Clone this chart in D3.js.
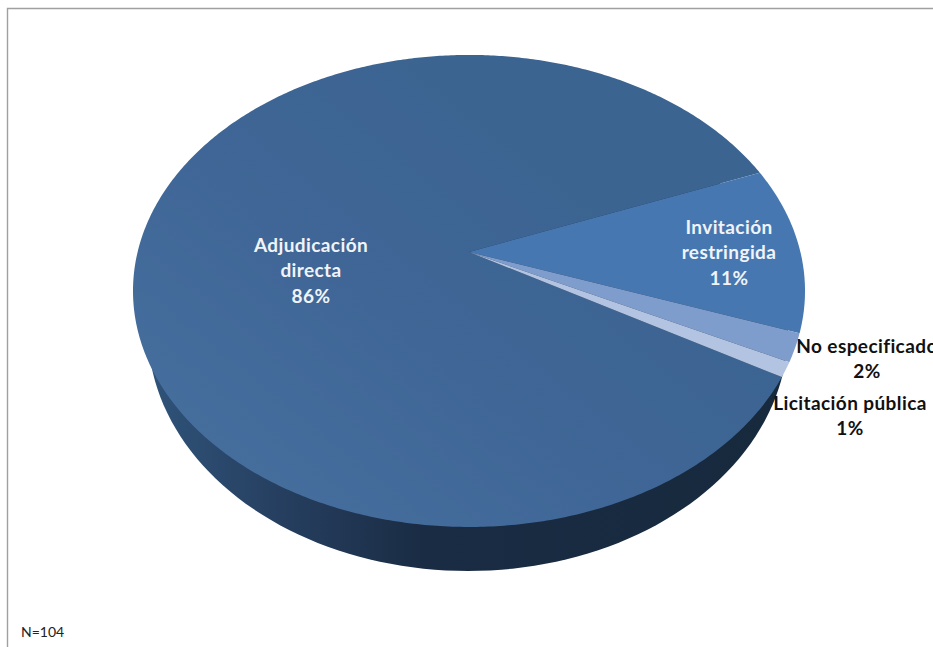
<!DOCTYPE html>
<html>
<head>
<meta charset="utf-8">
<script src="https://cdn.jsdelivr.net/npm/d3@7"></script>
<style>
html,body{margin:0;padding:0;background:#fff;overflow:hidden}
svg{display:block}
text{font-family:Lato,"Open Sans",sans-serif}
</style>
</head>
<body>
<svg id="c" width="933" height="647"></svg>
<script>
// ---- data ----
const categories = ["Adjudicación directa", "Invitación restringida", "No especificado", "Licitación pública"];
const shares = [85.7, 11.4, 1.9, 1.0];
const note = "N=104";

// ---- styling / layout (separate from the data) ----
const sliceColors = ["url(#face)", "#4677b0", "#7f9dcc", "#b2c4e1"];
const labelColors = ["#f0f3f8", "#f0f3f8", "#111", "#111"];
const labelLines = [["Adjudicación", "directa"], ["Invitación", "restringida"], ["No especificado"], ["Licitación pública"]];
const labelAnchors = [[311, 252], [729, 234], [867, 353], [850, 410]];
const lineHeight = 25.3;

const W = 933, H = 647;
const svg = d3.select("#c");
const defs = svg.append("defs");

const wallGrad = defs.append("linearGradient").attr("id", "wall")
  .attr("gradientUnits", "userSpaceOnUse").attr("x1", 150).attr("x2", 800).attr("y1", 0).attr("y2", 0);
[[0, "#2f5379"], [0.2, "#263f60"], [0.42, "#1a2c44"], [1, "#17293c"]]
  .forEach(([o, c]) => wallGrad.append("stop").attr("offset", o).attr("stop-color", c));

const faceGrad = defs.append("linearGradient").attr("id", "face")
  .attr("gradientUnits", "userSpaceOnUse").attr("x1", 200).attr("y1", 520).attr("x2", 520).attr("y2", 120);
[[0, "#47709f"], [0.55, "#3f6696"], [1, "#3c6491"]]
  .forEach(([o, c]) => faceGrad.append("stop").attr("offset", o).attr("stop-color", c));

// Frame: only the top and left rules are visible
svg.append("path").attr("d", `M7.5,${H} V8.5 H${W}`).attr("fill", "none").attr("stroke", "#a0a0a0").attr("stroke-width", 1.4);

// Perspective projection of the pie disc (unit circle) to the screen ellipse
const apex = { x: 469, y: 252 };
const persp = -0.165, yA = 188, xS = 331.4;
const project = (u, v) => {
  const w = 1 + persp * v;
  return [apex.x + xS * u / w, (yA * v + apex.y) / w];
};

// Side wall: the lower rim of the tilted disc
const rim = { cx: 468, cy: 331, rx: 320, ry: 240 };
const lineGen = d3.line();
const rimPts = d3.range(0, 361, 2).map(a => {
  const t = a * Math.PI / 180;
  return [rim.cx + rim.rx * Math.cos(t), rim.cy + rim.ry * Math.sin(t)];
});
svg.append("path").attr("d", lineGen(rimPts) + "Z").attr("fill", "url(#wall)");

// Slices
const pie = d3.pie().sort(null)
  .startAngle(120 * Math.PI / 180)
  .endAngle((120 + 360) * Math.PI / 180);
const arcs = pie(shares);

const slicePath = d => {
  const n = Math.max(4, Math.ceil((d.endAngle - d.startAngle) / 0.01));
  const pts = [project(0, 0)];
  for (let i = 0; i <= n; i++) {
    const t = d.startAngle + (d.endAngle - d.startAngle) * i / n;
    pts.push(project(Math.sin(t), -Math.cos(t)));
  }
  return lineGen(pts) + "Z";
};
svg.selectAll("path.slice").data(arcs).join("path")
  .attr("class", "slice")
  .attr("d", slicePath)
  .attr("fill", (d, i) => sliceColors[i]);

// Labels
const fmt = v => d3.format(".0f")(v) + "%";
const lab = svg.selectAll("text.label").data(categories).join("text")
  .attr("class", "label")
  .attr("text-anchor", "middle")
  .attr("font-weight", 700)
  .attr("font-size", 19)
  .attr("letter-spacing", 0.4)
  .attr("fill", (d, i) => labelColors[i]);
lab.each(function (d, i) {
  const t = d3.select(this);
  const lines = labelLines[i].concat(fmt(shares[i]));
  lines.forEach((s, k) => {
    t.append("tspan").attr("x", labelAnchors[i][0]).attr("y", labelAnchors[i][1] + k * lineHeight).text(s);
  });
});

// Note
svg.append("text").attr("x", 21).attr("y", 637).attr("font-size", 14).attr("fill", "#222").text(note);
</script>
</body>
</html>
